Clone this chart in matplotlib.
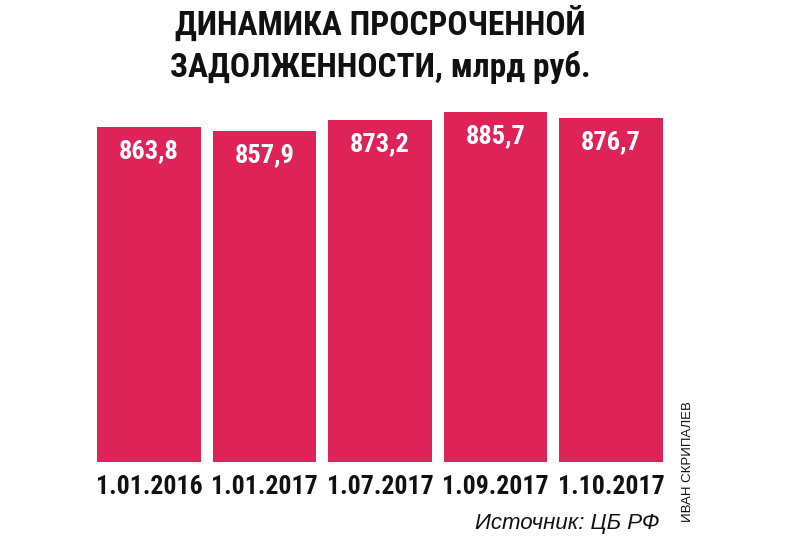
import matplotlib
matplotlib.use("Agg")
import matplotlib.pyplot as plt
from matplotlib import font_manager as fm

dates = ["1.01.2016", "1.01.2017", "1.07.2017", "1.09.2017", "1.10.2017"]
values = [863.8, 857.9, 873.2, 885.7, 876.7]
value_labels = ["863,8", "857,9", "873,2", "885,7", "876,7"]

names = {f.name for f in fm.fontManager.ttflist}
narrow = [n for n in ["Liberation Sans Narrow", "DejaVu Sans Condensed", "Roboto Condensed", "Open Sans Condensed"] if n in names]
fam = narrow + ["DejaVu Sans"]

W, H = 808, 539
fig = plt.figure(figsize=(W / 100, H / 100), dpi=100)
ax = fig.add_axes([97 / W, (539 - 462) / H, 566 / W, 362 / H])

color = "#dd2358"
x = list(range(len(values)))
ax.bar(x, values, width=0.9, color=color)
ax.set_xlim(-0.45, len(values) - 0.55)
ax.set_ylim(378, 902.6)
for s in ax.spines.values():
    s.set_visible(False)
ax.set_yticks([])
ax.set_xticks(x)
ax.set_xticklabels(dates, fontsize=18.5, fontweight="bold", family=fam, color="#111111")
ax.tick_params(axis="x", length=0, pad=9)

for xi, v, lab in zip(x, values, value_labels):
    ax.annotate(lab, (xi, v), xytext=(0, -17.5), textcoords="offset points",
                ha="center", va="center", color="white", fontsize=19,
                fontweight="bold", family=fam)

fig.text(380 / W, 1 - 24 / H, "ДИНАМИКА ПРОСРОЧЕННОЙ", ha="center", va="center",
         fontsize=24, fontweight="bold", family=fam, color="#111111")
fig.text(380 / W, 1 - 68 / H, "ЗАДОЛЖЕННОСТИ, млрд руб.", ha="center", va="center",
         fontsize=24, fontweight="bold", family=fam, color="#111111")

fig.text(660 / W, 1 - 523 / H, "Источник: ЦБ РФ", ha="right", va="center",
         fontsize=16, style="italic", family=["Liberation Sans", "DejaVu Sans"], color="#111111")
fig.text(688 / W, 1 - 462 / H, "ИВАН СКРИПАЛЕВ", ha="center", va="center",
         rotation=90, fontsize=9.5, family=["Liberation Sans", "DejaVu Sans"], color="#111111")

fig.savefig("out.png", dpi=100)
